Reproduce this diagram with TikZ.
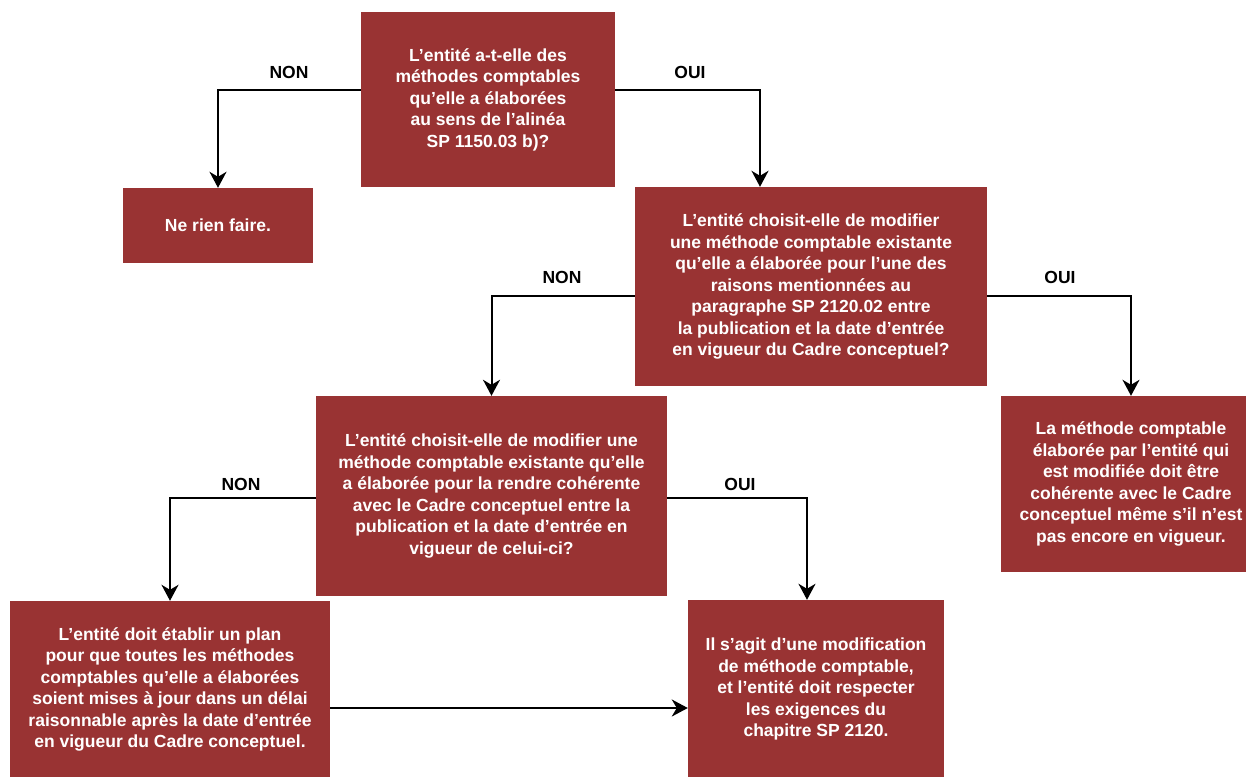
\documentclass[tikz,border=0pt]{standalone}
\usepackage{fontspec}
\setmainfont{Liberation Sans}
\usetikzlibrary{arrows.meta}
\definecolor{boxred}{HTML}{993333}
\tikzset{
  box/.style={fill=boxred, text=white, align=center, inner sep=0pt,
    font=\bfseries\fontsize{17.5}{21.5}\selectfont},
  flow/.style={-{Stealth[length=16pt,width=17pt,inset=5pt]}, line width=2pt},
  lbl/.style={font=\bfseries\fontsize{17.5}{21.5}\selectfont},
}
\begin{document}
\begin{tikzpicture}[x=1pt,y=-1pt]
    \useasboundingbox (0,0) rectangle (1246,776);

    % questions
    \node[box, minimum width=254pt, minimum height=175pt] (q1) at (488,99.5)
      {L’entité a-t-elle des\\méthodes comptables\\qu’elle a élaborées\\au sens de l’alinéa\\SP 1150.03 b)?};
    \node[box, minimum width=352pt, minimum height=199pt] (q2) at (811,286.5)
      {L’entité choisit-elle de modifier\\une méthode comptable existante\\qu’elle a élaborée pour l’une des\\raisons mentionnées au\\paragraphe SP 2120.02 entre\\la publication et la date d’entrée\\en vigueur du Cadre conceptuel?};
    \node[box, minimum width=351pt, minimum height=200pt] (q3) at (491.5,496)
      {L’entité choisit-elle de modifier une\\méthode comptable existante qu’elle\\a élaborée pour la rendre cohérente\\avec le Cadre conceptuel entre la\\publication et la date d’entrée en\\vigueur de celui-ci?};

    % answers
    \node[box, minimum width=190pt, minimum height=75pt] (n1) at (218,225.5)
      {Ne rien faire.};
    \node[box, minimum width=260pt, minimum height=176pt] (r1) at (1131,484)
      {La méthode comptable\\élaborée par l’entité qui\\est modifiée doit être\\cohérente avec le Cadre\\conceptuel même s’il n’est\\pas encore en vigueur.};
    \node[box, minimum width=320pt, minimum height=177pt] (r2) at (170,689.5)
      {L’entité doit établir un plan\\pour que toutes les méthodes\\comptables qu’elle a élaborées\\soient mises à jour dans un délai\\raisonnable après la date d’entrée\\en vigueur du Cadre conceptuel.};
    \node[box, minimum width=256pt, minimum height=178pt] (r3) at (816,689)
      {Il s’agit d’une modification\\de méthode comptable,\\et l’entité doit respecter\\les exigences du\\chapitre SP 2120.};

    % arrows
    \draw[flow] ([yshift=9.5pt]q1.west) -| (n1.north);
    \draw[flow] ([yshift=9.5pt]q1.east) -| ([xshift=-51pt]q2.north);
    \draw[flow] ([yshift=-9.5pt]q2.west) -| (q3.north);
    \draw[flow] ([yshift=-9.5pt]q2.east) -| (r1.north);
    \draw[flow] ([yshift=-2pt]q3.west) -| (r2.north);
    \draw[flow] ([yshift=-2pt]q3.east) -| ([xshift=-9pt]r3.north);
    \draw[flow] ([yshift=-18.5pt]r2.east) -- (r3.west |- 0,708);

    % labels
    \node[lbl] (l1) at (289,72) {NON};
    \node[lbl] (l2) at (690,72) {OUI};
    \node[lbl] (l3) at (562,277) {NON};
    \node[lbl] (l4) at (1060,277) {OUI};
    \node[lbl] (l5) at (241,484) {NON};
    \node[lbl] (l6) at (740,484) {OUI};
\end{tikzpicture}
\end{document}
